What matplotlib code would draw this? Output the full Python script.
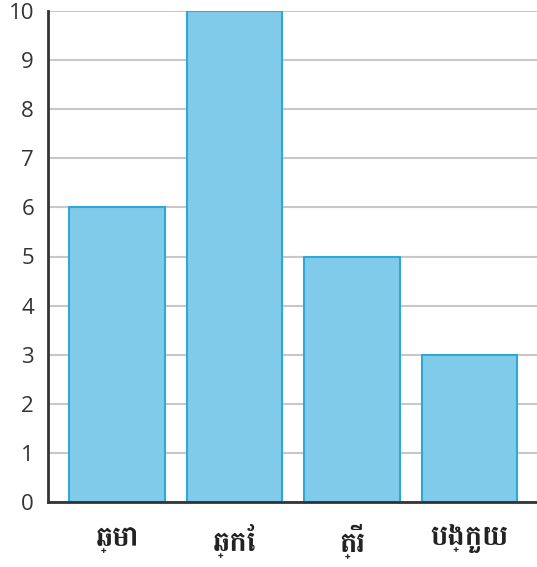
import matplotlib
matplotlib.use("Agg")
import matplotlib.pyplot as plt

animals = ["ឆ្មា", "ឆ្កែ", "ត្រី", "បង្កួយ"]
counts = [6, 10, 5, 3]
y_ticks = list(range(0, 11))

fig = plt.figure(figsize=(5.37, 5.67), dpi=100)
ax = fig.add_axes([48 / 537, 1 - 502 / 567, 489 / 537, 491 / 567])

x = list(range(len(animals)))
ax.bar(x, counts, width=0.81, color="#80cbea", edgecolor="#2fa8d8", linewidth=1.5, zorder=3)

ax.set_xlim(-0.587, 3.574)
ax.set_ylim(0, 10)
ax.set_yticks(y_ticks)
ax.set_yticklabels([str(t) for t in y_ticks], family=["Open Sans", "DejaVu Sans"], fontsize=16, color="#333333")
ax.set_xticks(x)
ax.set_xticklabels(animals, family=["Battambang", "DejaVu Sans"], fontweight="bold", fontsize=21, color="#222222")
ax.tick_params(axis="y", length=0, pad=10)
ax.tick_params(axis="x", length=0, pad=16)
ax.grid(axis="y", color="#c8c8c8", linewidth=1.5, zorder=0)

for side in ["top", "right"]:
    ax.spines[side].set_visible(False)
for side in ["left", "bottom"]:
    ax.spines[side].set_color("#333333")
    ax.spines[side].set_linewidth(2)
    ax.spines[side].set_zorder(4)

fig.savefig("out.png", dpi=100)
